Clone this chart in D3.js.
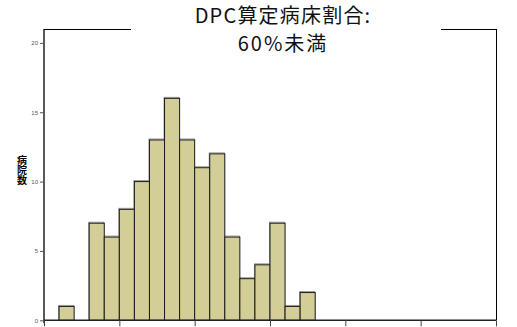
<!DOCTYPE html>
<html><head><meta charset="utf-8">
<script src="https://cdn.jsdelivr.net/npm/d3@7"></script>
<style>body{margin:0;background:#fff}svg{display:block}</style>
</head><body><svg id="c" width="517" height="327"></svg>
<script>
const titleLines = ["DPC算定病床割合:", "60%未満"];
const yLabel = "病院数";
const binStart = [0,2,4,6,8,10,12,14,16,18,20,22,24,26,28,30,32,34];
const binWidth = 2;
const counts = [0,1,0,7,6,8,10,13,16,13,11,12,6,3,4,7,1,2];
const xTicks = [0,10,20,30,40,50,60];
const yTicks = [0,5,10,15,20];

const svg = d3.select("#c");
const L = 44, R = 496, T = 29, B = 320.3;
const x = d3.scaleLinear().domain([0,60]).range([L,R]);
const y = d3.scaleLinear().domain([0,21]).range([B,T]);

// bars (shadow then bar)
const data = binStart.map((s,i)=>({s, c: counts[i]})).filter(d=>d.c>0);
svg.append("g").selectAll("rect").data(data).join("rect")
  .attr("x", d=>x(d.s)-0.5).attr("y", d=>y(d.c)-1)
  .attr("width", d=>x(d.s+binWidth)-x(d.s)).attr("height", d=>B-y(d.c)+1)
  .attr("fill","none").attr("stroke","#9a9a9a").attr("stroke-width",1);
svg.append("g").selectAll("rect").data(data).join("rect")
  .attr("x", d=>x(d.s)).attr("y", d=>y(d.c))
  .attr("width", d=>x(d.s+binWidth)-x(d.s)).attr("height", d=>B-y(d.c))
  .attr("fill","#d3ce98").attr("stroke","#1a1a1a").attr("stroke-width",1);

// frame
svg.append("line").attr("x1",L).attr("x2",R).attr("y1",T+0.5).attr("y2",T+0.5).attr("stroke","#000");
svg.append("line").attr("x1",R+0.5).attr("x2",R+0.5).attr("y1",T).attr("y2",B).attr("stroke","#000");

// y axis
const ya = d3.axisLeft(y).tickValues(yTicks).tickSize(4).tickPadding(2).tickFormat(d3.format("d"));
const gy = svg.append("g").attr("transform",`translate(${L},0)`).call(ya);
gy.select(".domain").attr("stroke","#000").attr("d",`M0,${T}V${B+3}`).attr("stroke-width",1.3);
gy.selectAll(".tick line").attr("stroke","#555");
gy.selectAll(".tick text").attr("font-family","Liberation Sans, Arial, sans-serif").attr("font-size",6).attr("fill","#555");

// x axis
const xa = d3.axisBottom(x).tickValues(xTicks).tickSize(6).tickFormat("");
const gx = svg.append("g").attr("transform",`translate(0,${B})`).call(xa);
gx.select(".domain").attr("stroke","#222").attr("stroke-width",1.6).attr("d",`M${L},0H${R}`);
gx.selectAll(".tick line").attr("stroke","#444");

// title background + text
svg.append("rect").attr("x",131).attr("y",0).attr("width",310).attr("height",60).attr("fill","#fff");
const tt = svg.append("text").attr("text-anchor","middle")
  .attr("font-family","Noto Sans CJK JP, sans-serif").attr("font-size",20).attr("fill","#111");
tt.selectAll("tspan").data(titleLines).join("tspan")
  .attr("x",283).attr("y",(d,i)=>23+i*28).attr("letter-spacing",(d,i)=>i?"2px":"1.2px").text(d=>d);

// y label stacked vertically (single text element, vertical writing)
svg.append("text")
  .attr("x",22).attr("y",155)
  .style("writing-mode","vertical-rl").style("text-orientation","upright")
  .attr("font-family","Noto Sans CJK JP, sans-serif").attr("font-weight","bold").attr("font-size",10)
  .attr("fill","#000").text(yLabel);
</script></body></html>
